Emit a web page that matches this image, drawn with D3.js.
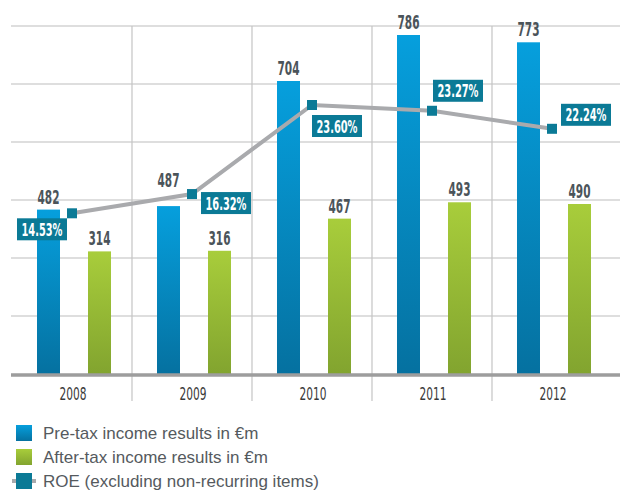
<!DOCTYPE html>
<html lang="en">

<head>
  <meta charset="UTF-8" />
  <title>Income results and ROE</title>
  <script src="https://d3js.org/d3.v7.min.js"></script>
  <style>
    body {
      margin: 0;
      background: #fff;
    }

    .narrow {
      font-family: "DejaVu Sans Condensed", "Liberation Sans Narrow", "Liberation Sans", sans-serif;
    }

    .legend-text {
      font-family: "Liberation Sans", Arial, sans-serif;
      font-size: 17px;
      fill: #555a5e;
    }
  </style>
</head>

<body>
  <script>
    // data
    const years = ['2008', '2009', '2010', '2011', '2012'];
    const preTax = [482, 487, 704, 786, 773];
    const afterTax = [314, 316, 467, 493, 490];
    const roe = [14.53, 16.32, 23.60, 23.27, 22.24];
    const legendLabels = ['Pre-tax income results in €m', 'After-tax income results in €m', 'ROE (excluding non-recurring items)'];

    // layout tweaks: ROE box position relative to its marker, extra lift of pre-tax labels
    const roeBoxOffset = [[-30, 16], [34, 9], [25, 21], [26, -20], [34, -14]];
    const preLabelLift = [0, 13, 0, 0, 0];

    const width = 620, height = 490;
    const plotLeft = 12, plotRight = 612, base = 374, plotTop = 26;

    const svg = d3.select('body').append('svg')
      .attr('width', width)
      .attr('height', height);

    const defs = svg.append('defs');
    const grad = (id, c1, c2) => {
      const g = defs.append('linearGradient').attr('id', id)
        .attr('x1', 0).attr('y1', 0).attr('x2', 0).attr('y2', 1);
      g.append('stop').attr('offset', '0%').attr('stop-color', c1);
      g.append('stop').attr('offset', '100%').attr('stop-color', c2);
    };
    grad('gradBlue', '#069fdd', '#0571a0');
    grad('gradGreen', '#a8cd3b', '#82a42f');

    // squeeze a text to a given width (no condensed font installed)
    function fit(sel, w, px, py) {
      sel.attr('text-anchor', 'middle').each(function (d, i) {
        const n = this.getComputedTextLength();
        d3.select(this).attr('transform', `translate(${px(d, i)},${py(d, i)}) scale(${w / n},1)`);
      });
    }

    //scales
    const x0 = d3.scaleBand().domain(years).range([plotLeft, plotRight]);
    const x1 = d3.scaleBand().domain(['pre', 'after']).range([25, 99]).paddingInner(28 / 51);

    // the original chart is not drawn to a single linear scale, so use a piecewise one
    const y = d3.scaleLinear()
      .domain([0, 315, 470, 490, 704, 786])
      .range([base, 251, 218, 204, 81, 35]);
    const yRoe = d3.scaleLinear()
      .domain([14, 22, 24])
      .range([219, 133, 98]);

    // gridlines (6 even steps)
    const grid = d3.scaleLinear().domain([0, 6]).range([base, plotTop]);
    svg.append('g')
      .selectAll('line')
      .data(d3.range(1, 7))
      .join('line')
      .attr('x1', 11).attr('x2', width)
      .attr('y1', d => grid(d)).attr('y2', d => grid(d))
      .attr('stroke', '#bdbdbd')
      .attr('stroke-width', 1.2);

    svg.append('g')
      .selectAll('line')
      .data(years.slice(1))
      .join('line')
      .attr('x1', d => x0(d)).attr('x2', d => x0(d))
      .attr('y1', plotTop).attr('y2', 401)
      .attr('stroke', '#c4c4c4')
      .attr('stroke-width', 1.2);

    // bars
    const groups = svg.append('g')
      .selectAll('g')
      .data(years)
      .join('g')
      .attr('transform', d => `translate(${x0(d)},0)`);

    groups.append('rect')
      .attr('x', x1('pre'))
      .attr('width', x1.bandwidth())
      .attr('y', (d, i) => y(preTax[i]))
      .attr('height', (d, i) => base - y(preTax[i]))
      .attr('fill', 'url(#gradBlue)');

    groups.append('rect')
      .attr('x', x1('after'))
      .attr('width', x1.bandwidth())
      .attr('y', (d, i) => y(afterTax[i]))
      .attr('height', (d, i) => base - y(afterTax[i]))
      .attr('fill', 'url(#gradGreen)');

    const valueLabel = (key, vals, lift) => {
      const t = groups.append('text')
        .attr('class', 'narrow')
        .style('font-size', '20px')
        .style('font-weight', 'bold')
        .attr('fill', '#4b545a')
        .text((d, i) => vals[i]);
      fit(t, 22, () => x1(key) + x1.bandwidth() / 2, (d, i) => y(vals[i]) - 6 - lift[i]);
    };
    valueLabel('pre', preTax, preLabelLift);
    valueLabel('after', afterTax, [0, 0, 0, 0, 0]);

    // baseline
    svg.append('line')
      .attr('x1', 11).attr('x2', width)
      .attr('y1', base + 1).attr('y2', base + 1)
      .attr('stroke', '#9d9d9d')
      .attr('stroke-width', 3.5);

    // year labels
    const yearText = svg.append('g')
      .selectAll('text')
      .data(years)
      .join('text')
      .attr('class', 'narrow')
      .style('font-size', '18px')
      .attr('fill', '#3a3a3a')
      .text(d => d);
    fit(yearText, 27, d => x0(d) + x0.bandwidth() / 2 + 1, () => 400);

    // ROE line
    const cx = d => x0(d) + x0.bandwidth() / 2;
    const line = d3.line()
      .x((d, i) => cx(years[i]))
      .y(d => yRoe(d));

    svg.append('path')
      .datum(roe)
      .attr('d', line)
      .attr('fill', 'none')
      .attr('stroke', '#a9aaad')
      .attr('stroke-width', 4);

    svg.append('g')
      .selectAll('rect')
      .data(roe)
      .join('rect')
      .attr('x', (d, i) => cx(years[i]) - 5)
      .attr('y', d => yRoe(d) - 5)
      .attr('width', 10)
      .attr('height', 10)
      .attr('fill', '#0b7a96');

    const boxes = svg.append('g')
      .selectAll('g')
      .data(roe)
      .join('g')
      .attr('transform', (d, i) => `translate(${cx(years[i]) + roeBoxOffset[i][0]},${yRoe(d) + roeBoxOffset[i][1]})`);

    boxes.append('rect')
      .attr('x', -25).attr('y', -11)
      .attr('width', 50).attr('height', 22)
      .attr('fill', '#0b7a96');

    const roeText = boxes.append('text')
      .attr('class', 'narrow')
      .style('font-size', '18px')
      .style('font-weight', 'bold')
      .attr('fill', '#fff')
      .text(d => d3.format('.2f')(d) + '%');
    fit(roeText, 41, () => 0, () => 6.5);

    // legend
    const legend = svg.append('g').attr('transform', 'translate(16,425)');
    const rows = legend.selectAll('g')
      .data(legendLabels)
      .join('g')
      .attr('transform', (d, i) => `translate(0,${i * 24})`);

    rows.filter((d, i) => i === 2).append('line')
      .attr('x1', -4).attr('x2', 20)
      .attr('y1', 8).attr('y2', 8)
      .attr('stroke', '#a9aaad')
      .attr('stroke-width', 4);

    rows.append('rect')
      .attr('width', 16).attr('height', 16)
      .attr('fill', (d, i) => ['url(#gradBlue)', 'url(#gradGreen)', '#0b7a96'][i]);

    rows.append('text')
      .attr('class', 'legend-text')
      .attr('x', 27)
      .attr('y', 14)
      .text(d => d);
  </script>
</body>

</html>
